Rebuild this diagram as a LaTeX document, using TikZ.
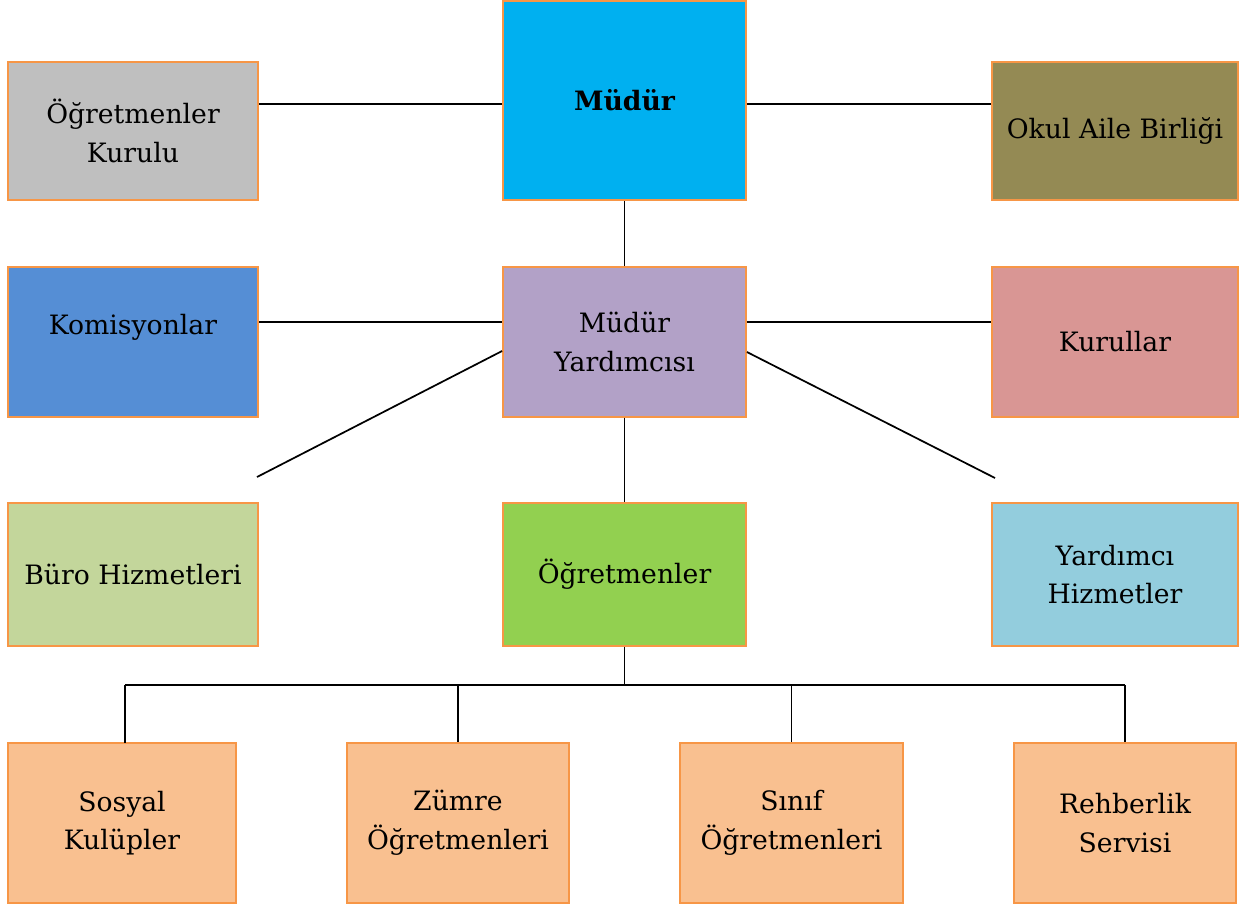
\documentclass[tikz,border=0pt]{standalone}
\usepackage{fontspec}
\setmainfont{DejaVu Serif}
\usepackage{xcolor}
\usetikzlibrary{calc}
\definecolor{edge}{HTML}{F79646}
\definecolor{mudurc}{HTML}{00B0F0}
\definecolor{kurulc}{HTML}{BFBFBF}
\definecolor{okulc}{HTML}{948A54}
\definecolor{komc}{HTML}{558ED5}
\definecolor{yardc}{HTML}{B2A1C7}
\definecolor{kurullarc}{HTML}{D99694}
\definecolor{buroc}{HTML}{C3D69B}
\definecolor{ogrc}{HTML}{92D050}
\definecolor{hizc}{HTML}{93CDDD}
\definecolor{altc}{HTML}{F9C090}
\tikzset{
  unit/.style={draw=edge, line width=1.6pt, align=center, inner sep=0pt,
    font=\fontsize{20}{29}\selectfont, text=black},
  wide/.style={unit, minimum width=187.5pt},
  low/.style={unit, minimum width=167pt, minimum height=120pt},
  link/.style={draw=black, line width=1.3pt}
}
\begin{document}
\begin{tikzpicture}[x=0.75pt,y=-0.75pt]
  \useasboundingbox (0,0) rectangle (1243,904);

  % top row
  \node[wide, fill=kurulc, minimum height=103pt] (kurulu) at (133,131) {Öğretmenler\\Kurulu};
  \node[unit, fill=mudurc, minimum width=182pt, minimum height=149pt,
        font=\fontsize{20}{29}\selectfont\bfseries] (mudur) at (624.5,100.5) {Müdür};
  \node[unit, fill=okulc, minimum width=184.5pt, minimum height=103pt] (okul) at (1115,131) {Okul Aile Birliği};

  % middle row
  \node[wide, fill=komc, minimum height=112pt, text depth=26pt] (komisyon) at (133,342) {Komisyonlar};
  \node[unit, fill=yardc, minimum width=182pt, minimum height=112pt] (myard) at (624.5,342) {Müdür\\Yardımcısı};
  \node[unit, fill=kurullarc, minimum width=184.5pt, minimum height=112pt] (kurullar) at (1115,342) {Kurullar};

  % third row
  \node[wide, fill=buroc, minimum height=107pt] (buro) at (133,574.5) {Büro Hizmetleri};
  \node[unit, fill=ogrc, minimum width=182pt, minimum height=107pt] (ogretmen) at (624.5,574.5) {Öğretmenler};
  \node[unit, fill=hizc, minimum width=184.5pt, minimum height=107pt] (yardimci) at (1115,574.5) {Yardımcı\\Hizmetler};

  % bottom row
  \node[low, fill=altc, minimum width=171pt] (sosyal) at (122,823) {Sosyal\\Kulüpler};
  \node[low, fill=altc] (zumre) at (458,823) {Zümre\\Öğretmenleri};
  \node[low, fill=altc] (sinif) at (791.5,823) {Sınıf\\Öğretmenleri};
  \node[low, fill=altc] (rehber) at (1125,823) {Rehberlik\\Servisi};

  % connectors
  \coordinate (buroUst) at (257,477);
  \coordinate (hizUst) at (995,478);
  \coordinate (bus) at (624.5,685);

  \draw[link] (kurulu.east |- 0,104) -- (mudur.west |- 0,104);
  \draw[link] (mudur.east |- 0,104) -- (okul.west |- 0,104);
  \draw[link] (mudur.south) -- (myard.north);
  \draw[link] (komisyon.east |- 0,322) -- (myard.west |- 0,322);
  \draw[link] (myard.east |- 0,322) -- (kurullar.west |- 0,322);
  \draw[link] ($(myard.west)+(0,9)$) -- (buroUst);
  \draw[link] ($(myard.east)+(0,10)$) -- (hizUst);
  \draw[link] (myard.south) -- (ogretmen.north);
  \draw[link] (ogretmen.south) -- (bus);
  \draw[link] (125,685) -- (rehber.north |- bus);
  \draw[link] (125,685) -- (125,743);
  \foreach \n in {zumre,sinif,rehber}
    \draw[link] (\n.north |- bus) -- (\n.north);
\end{tikzpicture}
\end{document}
